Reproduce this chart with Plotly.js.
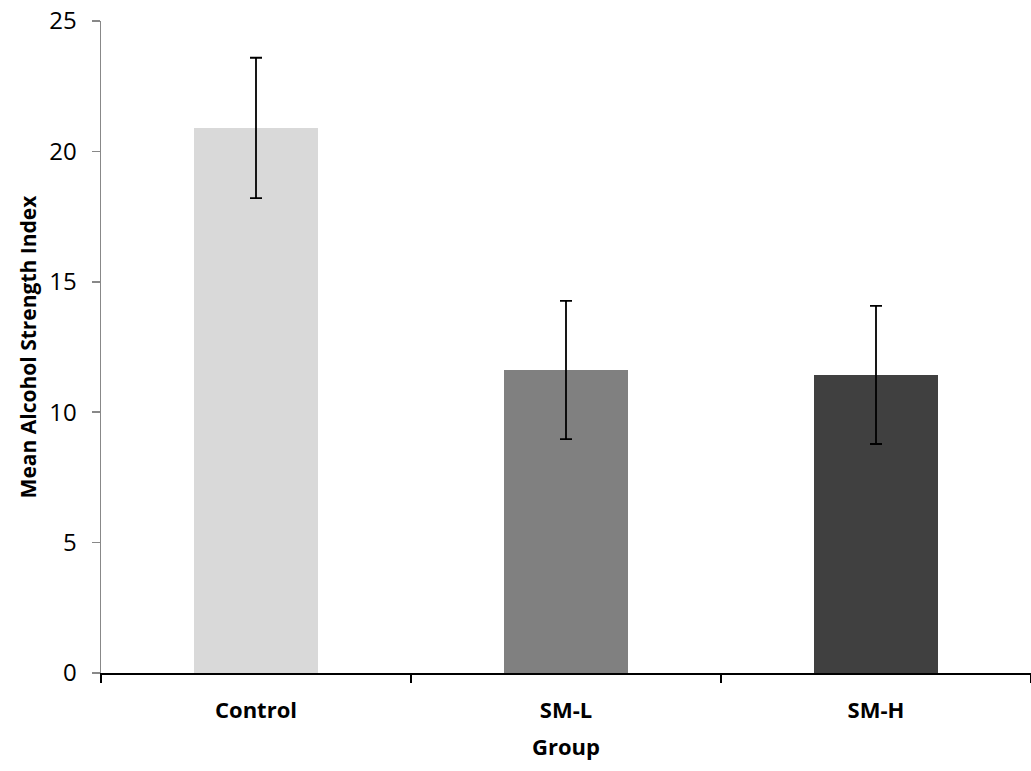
<!DOCTYPE html>
<html>
<head>
<meta charset="utf-8">
<script src="https://cdn.plot.ly/plotly-3.0.1.min.js"></script>
<style>html,body{margin:0;padding:0;background:#fff;}#chart{width:1031px;height:771px;}</style>
</head>
<body>
<div id="chart"></div>
<script>
const groups = ["Control", "SM-L", "SM-H"];
const meanIndex = [20.9, 11.62, 11.43];
const errorValues = [2.69, 2.65, 2.65];
const barColors = ["#D9D9D9", "#808080", "#404040"];
const yTicks = [0, 5, 10, 15, 20, 25];

const font = "Open Sans, sans-serif";

const trace = {
  type: "bar",
  x: groups,
  y: meanIndex,
  width: 0.4,
  marker: { color: barColors, line: { width: 0 } },
  error_y: { type: "data", array: errorValues, visible: true, color: "#000000", thickness: 1.8, width: 6 },
  hoverinfo: "none"
};

const layout = {
  width: 1031,
  height: 771,
  margin: { l: 101, r: 0, t: 21, b: 98 },
  paper_bgcolor: "#ffffff",
  plot_bgcolor: "#ffffff",
  showlegend: false,
  font: { family: font, color: "#000000" },
  xaxis: {
    type: "category",
    range: [-0.5, 2.5],
    showline: true,
    linecolor: "#000000",
    linewidth: 2,
    ticks: "outside",
    tickson: "boundaries",
    ticklen: 8,
    tickwidth: 1.5,
    tickcolor: "#000000",
    tickfont: { family: font, size: 22, color: "#000000", weight: "bold" },
    ticklabelstandoff: 17,
    showgrid: false,
    zeroline: false,
    title: { text: "<b>Group</b>", font: { family: font, size: 22, color: "#000000" }, standoff: 16 }
  },
  yaxis: {
    range: [0, 25],
    tickvals: yTicks,
    ticktext: yTicks.map(String),
    showline: true,
    linecolor: "#888888",
    linewidth: 1.5,
    ticks: "outside",
    ticklen: 8,
    tickwidth: 1.5,
    tickcolor: "#888888",
    tickfont: { family: font, size: 24, color: "#000000" },
    ticklabelstandoff: 10,
    showgrid: false,
    zeroline: false,
    title: { text: "<b>Mean Alcohol Strength Index</b>", font: { family: font, size: 21, color: "#000000" }, standoff: 7 }
  }
};

Plotly.newPlot("chart", [trace], layout, { displayModeBar: false, staticPlot: true });
</script>
</body>
</html>
